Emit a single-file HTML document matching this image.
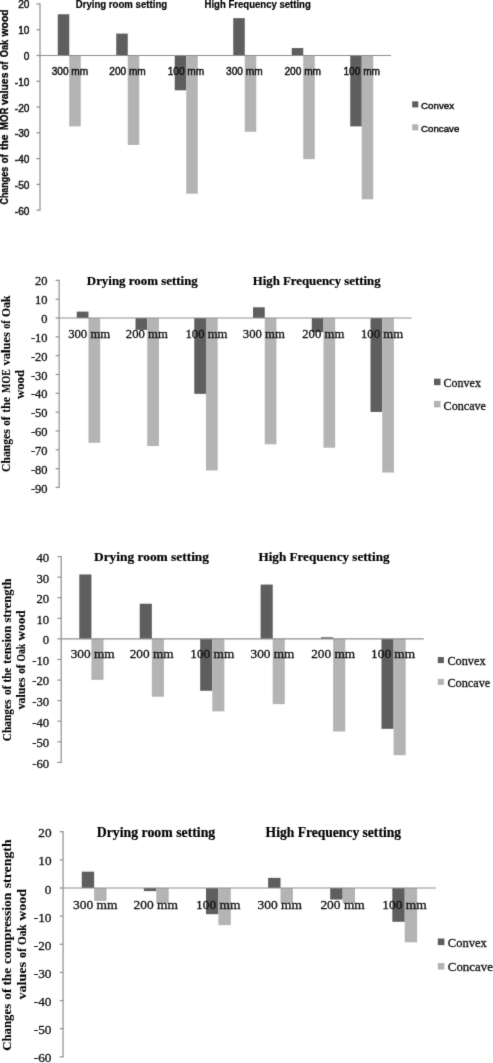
<!DOCTYPE html><html><head><meta charset="utf-8"><title>Oak wood charts</title><style>html,body{margin:0;padding:0;background:#fff;overflow:hidden;}svg{display:block;}</style></head><body>
<svg width="493" height="1063" viewBox="0 0 493 1063">
<defs><filter id="b" x="0" y="0" width="493" height="1063" filterUnits="userSpaceOnUse" color-interpolation-filters="sRGB"><feConvolveMatrix order="3" kernelMatrix="0.01134 0.08382 0.01134 0.08382 0.61935 0.08382 0.01134 0.08382 0.01134" edgeMode="duplicate"/></filter></defs>
<rect width="493" height="1063" fill="#fff"/>
<g filter="url(#b)">
<rect x="57.75" y="14.26" width="11.5" height="41.24" fill="#5e5e5e"/>
<rect x="69.25" y="55.5" width="11.5" height="70.88" fill="#b4b4b4"/>
<rect x="116.25" y="33.59" width="11.5" height="21.91" fill="#5e5e5e"/>
<rect x="127.75" y="55.5" width="11.5" height="89.44" fill="#b4b4b4"/>
<rect x="174.75" y="55.5" width="11.5" height="34.8" fill="#5e5e5e"/>
<rect x="186.25" y="55.5" width="11.5" height="138.15" fill="#b4b4b4"/>
<rect x="233.25" y="18.13" width="11.5" height="37.37" fill="#5e5e5e"/>
<rect x="244.75" y="55.5" width="11.5" height="76.29" fill="#b4b4b4"/>
<rect x="291.75" y="48.03" width="11.5" height="7.47" fill="#5e5e5e"/>
<rect x="303.25" y="55.5" width="11.5" height="103.62" fill="#b4b4b4"/>
<rect x="350.25" y="55.5" width="11.5" height="70.88" fill="#5e5e5e"/>
<rect x="361.75" y="55.5" width="11.5" height="143.82" fill="#b4b4b4"/>
<path d="M40 3.35V210.75" stroke="#8f8f8f" stroke-width="1.2" fill="none"/>
<path d="M40 55.5H391" stroke="#8f8f8f" stroke-width="1.2" fill="none"/>
<path d="M36.4 3.95H40" stroke="#8f8f8f" stroke-width="1.2" fill="none"/>
<text x="29.4" y="8.45" font-size="10.2" font-family="&quot;Liberation Sans&quot;, sans-serif" font-weight="normal" text-anchor="end" fill="#111" stroke="#111" stroke-width="0.45" textLength="11.23" lengthAdjust="spacingAndGlyphs">20</text>
<path d="M36.4 29.72H40" stroke="#8f8f8f" stroke-width="1.2" fill="none"/>
<text x="29.4" y="34.22" font-size="10.2" font-family="&quot;Liberation Sans&quot;, sans-serif" font-weight="normal" text-anchor="end" fill="#111" stroke="#111" stroke-width="0.45" textLength="11.23" lengthAdjust="spacingAndGlyphs">10</text>
<path d="M36.4 55.5H40" stroke="#8f8f8f" stroke-width="1.2" fill="none"/>
<text x="29.4" y="60" font-size="10.2" font-family="&quot;Liberation Sans&quot;, sans-serif" font-weight="normal" text-anchor="end" fill="#111" stroke="#111" stroke-width="0.45" textLength="5.62" lengthAdjust="spacingAndGlyphs">0</text>
<path d="M36.4 81.28H40" stroke="#8f8f8f" stroke-width="1.2" fill="none"/>
<text x="29.4" y="85.78" font-size="10.2" font-family="&quot;Liberation Sans&quot;, sans-serif" font-weight="normal" text-anchor="end" fill="#111" stroke="#111" stroke-width="0.45" textLength="14.59" lengthAdjust="spacingAndGlyphs">-10</text>
<path d="M36.4 107.05H40" stroke="#8f8f8f" stroke-width="1.2" fill="none"/>
<text x="29.4" y="111.55" font-size="10.2" font-family="&quot;Liberation Sans&quot;, sans-serif" font-weight="normal" text-anchor="end" fill="#111" stroke="#111" stroke-width="0.45" textLength="14.59" lengthAdjust="spacingAndGlyphs">-20</text>
<path d="M36.4 132.82H40" stroke="#8f8f8f" stroke-width="1.2" fill="none"/>
<text x="29.4" y="137.32" font-size="10.2" font-family="&quot;Liberation Sans&quot;, sans-serif" font-weight="normal" text-anchor="end" fill="#111" stroke="#111" stroke-width="0.45" textLength="14.59" lengthAdjust="spacingAndGlyphs">-30</text>
<path d="M36.4 158.6H40" stroke="#8f8f8f" stroke-width="1.2" fill="none"/>
<text x="29.4" y="163.1" font-size="10.2" font-family="&quot;Liberation Sans&quot;, sans-serif" font-weight="normal" text-anchor="end" fill="#111" stroke="#111" stroke-width="0.45" textLength="14.59" lengthAdjust="spacingAndGlyphs">-40</text>
<path d="M36.4 184.38H40" stroke="#8f8f8f" stroke-width="1.2" fill="none"/>
<text x="29.4" y="188.88" font-size="10.2" font-family="&quot;Liberation Sans&quot;, sans-serif" font-weight="normal" text-anchor="end" fill="#111" stroke="#111" stroke-width="0.45" textLength="14.59" lengthAdjust="spacingAndGlyphs">-50</text>
<path d="M36.4 210.15H40" stroke="#8f8f8f" stroke-width="1.2" fill="none"/>
<text x="29.4" y="214.65" font-size="10.2" font-family="&quot;Liberation Sans&quot;, sans-serif" font-weight="normal" text-anchor="end" fill="#111" stroke="#111" stroke-width="0.45" textLength="14.59" lengthAdjust="spacingAndGlyphs">-60</text>
<text x="69.95" y="74.9" font-size="10.3" font-family="&quot;Liberation Sans&quot;, sans-serif" font-weight="normal" text-anchor="middle" fill="#111" stroke="#111" stroke-width="0.45" textLength="36.5" lengthAdjust="spacingAndGlyphs">300 mm</text>
<text x="127.55" y="74.9" font-size="10.3" font-family="&quot;Liberation Sans&quot;, sans-serif" font-weight="normal" text-anchor="middle" fill="#111" stroke="#111" stroke-width="0.45" textLength="36.5" lengthAdjust="spacingAndGlyphs">200 mm</text>
<text x="185.95" y="74.9" font-size="10.3" font-family="&quot;Liberation Sans&quot;, sans-serif" font-weight="normal" text-anchor="middle" fill="#111" stroke="#111" stroke-width="0.45" textLength="36.5" lengthAdjust="spacingAndGlyphs">100 mm</text>
<text x="244.35" y="74.9" font-size="10.3" font-family="&quot;Liberation Sans&quot;, sans-serif" font-weight="normal" text-anchor="middle" fill="#111" stroke="#111" stroke-width="0.45" textLength="36.5" lengthAdjust="spacingAndGlyphs">300 mm</text>
<text x="302.75" y="74.9" font-size="10.3" font-family="&quot;Liberation Sans&quot;, sans-serif" font-weight="normal" text-anchor="middle" fill="#111" stroke="#111" stroke-width="0.45" textLength="36.5" lengthAdjust="spacingAndGlyphs">200 mm</text>
<text x="361.75" y="74.9" font-size="10.3" font-family="&quot;Liberation Sans&quot;, sans-serif" font-weight="normal" text-anchor="middle" fill="#111" stroke="#111" stroke-width="0.45" textLength="36.5" lengthAdjust="spacingAndGlyphs">100 mm</text>
<text x="75.7" y="8.3" font-size="10.5" font-family="&quot;Liberation Sans&quot;, sans-serif" font-weight="bold" text-anchor="start" fill="#000" stroke="#000" stroke-width="0.2" textLength="91.5" lengthAdjust="spacingAndGlyphs">Drying room setting</text>
<text x="204.5" y="8.3" font-size="10.5" font-family="&quot;Liberation Sans&quot;, sans-serif" font-weight="bold" text-anchor="start" fill="#000" stroke="#000" stroke-width="0.2" textLength="106.3" lengthAdjust="spacingAndGlyphs">High Frequency setting</text>
<rect x="412.2" y="101.3" width="6.1" height="6.1" fill="#5e5e5e"/>
<text x="421" y="108.8" font-size="9.8" font-family="&quot;Liberation Sans&quot;, sans-serif" font-weight="normal" text-anchor="start" fill="#111" stroke="#111" stroke-width="0.45" textLength="33.2" lengthAdjust="spacingAndGlyphs">Convex</text>
<rect x="412.2" y="124.3" width="6.1" height="6.1" fill="#b4b4b4"/>
<text x="421" y="131.6" font-size="9.8" font-family="&quot;Liberation Sans&quot;, sans-serif" font-weight="normal" text-anchor="start" fill="#111" stroke="#111" stroke-width="0.45" textLength="38.3" lengthAdjust="spacingAndGlyphs">Concave</text>
<text transform="translate(8.2 204.5) rotate(-90)" x="0" y="0" font-size="10.2" font-family="&quot;Liberation Sans&quot;, sans-serif" font-weight="bold" fill="#000" stroke="#000" stroke-width="0.3" textLength="37.6" lengthAdjust="spacingAndGlyphs">Changes</text>
<text transform="translate(8.2 163.2) rotate(-90)" x="0" y="0" font-size="10.2" font-family="&quot;Liberation Sans&quot;, sans-serif" font-weight="bold" fill="#000" stroke="#000" stroke-width="0.3" textLength="8.98" lengthAdjust="spacingAndGlyphs">of</text>
<text transform="translate(8.2 150) rotate(-90)" x="0" y="0" font-size="10.2" font-family="&quot;Liberation Sans&quot;, sans-serif" font-weight="bold" fill="#000" stroke="#000" stroke-width="0.3" textLength="15.5" lengthAdjust="spacingAndGlyphs">the</text>
<text transform="translate(8.2 130) rotate(-90)" x="0" y="0" font-size="10.2" font-family="&quot;Liberation Sans&quot;, sans-serif" font-weight="bold" fill="#000" stroke="#000" stroke-width="0.3" textLength="22.3" lengthAdjust="spacingAndGlyphs">MOR</text>
<text transform="translate(8.2 104.9) rotate(-90)" x="0" y="0" font-size="10.2" font-family="&quot;Liberation Sans&quot;, sans-serif" font-weight="bold" fill="#000" stroke="#000" stroke-width="0.3" textLength="32.3" lengthAdjust="spacingAndGlyphs">values</text>
<text transform="translate(8.2 70) rotate(-90)" x="0" y="0" font-size="10.2" font-family="&quot;Liberation Sans&quot;, sans-serif" font-weight="bold" fill="#000" stroke="#000" stroke-width="0.3" textLength="8.38" lengthAdjust="spacingAndGlyphs">of</text>
<text transform="translate(8.2 57.3) rotate(-90)" x="0" y="0" font-size="10.2" font-family="&quot;Liberation Sans&quot;, sans-serif" font-weight="bold" fill="#000" stroke="#000" stroke-width="0.3" textLength="17.48" lengthAdjust="spacingAndGlyphs">Oak</text>
<text transform="translate(8.2 36.47) rotate(-90)" x="0" y="0" font-size="10.2" font-family="&quot;Liberation Sans&quot;, sans-serif" font-weight="bold" fill="#000" stroke="#000" stroke-width="0.3" textLength="26.97" lengthAdjust="spacingAndGlyphs">wood</text>
<rect x="76.77" y="311.6" width="11.7" height="6.4" fill="#5e5e5e"/>
<rect x="88.47" y="318" width="11.7" height="124.82" fill="#b4b4b4"/>
<rect x="135.53" y="318" width="11.7" height="11.86" fill="#5e5e5e"/>
<rect x="147.22" y="318" width="11.7" height="128.02" fill="#b4b4b4"/>
<rect x="194.28" y="318" width="11.7" height="75.87" fill="#5e5e5e"/>
<rect x="205.97" y="318" width="11.7" height="152.5" fill="#b4b4b4"/>
<rect x="253.03" y="307.27" width="11.7" height="10.73" fill="#5e5e5e"/>
<rect x="264.73" y="318" width="11.7" height="126.33" fill="#b4b4b4"/>
<rect x="311.78" y="318" width="11.7" height="14.12" fill="#5e5e5e"/>
<rect x="323.48" y="318" width="11.7" height="129.72" fill="#b4b4b4"/>
<rect x="370.53" y="318" width="11.7" height="93.95" fill="#5e5e5e"/>
<rect x="382.23" y="318" width="11.7" height="154.57" fill="#b4b4b4"/>
<path d="M59.1 279.75V488.04" stroke="#8f8f8f" stroke-width="1.2" fill="none"/>
<path d="M59.1 318H411.6" stroke="#8f8f8f" stroke-width="1.2" fill="none"/>
<path d="M55.6 280.35H59.1" stroke="#8f8f8f" stroke-width="1.2" fill="none"/>
<text x="47.6" y="285.45" font-size="12" font-family="&quot;Liberation Serif&quot;, serif" font-weight="normal" text-anchor="end" fill="#111" stroke="#111" stroke-width="0.3" textLength="12.48" lengthAdjust="spacingAndGlyphs">20</text>
<path d="M55.6 299.17H59.1" stroke="#8f8f8f" stroke-width="1.2" fill="none"/>
<text x="47.6" y="304.27" font-size="12" font-family="&quot;Liberation Serif&quot;, serif" font-weight="normal" text-anchor="end" fill="#111" stroke="#111" stroke-width="0.3" textLength="12.48" lengthAdjust="spacingAndGlyphs">10</text>
<path d="M55.6 318H59.1" stroke="#8f8f8f" stroke-width="1.2" fill="none"/>
<text x="47.6" y="323.1" font-size="12" font-family="&quot;Liberation Serif&quot;, serif" font-weight="normal" text-anchor="end" fill="#111" stroke="#111" stroke-width="0.3" textLength="6.24" lengthAdjust="spacingAndGlyphs">0</text>
<path d="M55.6 336.83H59.1" stroke="#8f8f8f" stroke-width="1.2" fill="none"/>
<text x="47.6" y="341.93" font-size="12" font-family="&quot;Liberation Serif&quot;, serif" font-weight="normal" text-anchor="end" fill="#111" stroke="#111" stroke-width="0.3" textLength="16.64" lengthAdjust="spacingAndGlyphs">-10</text>
<path d="M55.6 355.65H59.1" stroke="#8f8f8f" stroke-width="1.2" fill="none"/>
<text x="47.6" y="360.75" font-size="12" font-family="&quot;Liberation Serif&quot;, serif" font-weight="normal" text-anchor="end" fill="#111" stroke="#111" stroke-width="0.3" textLength="16.64" lengthAdjust="spacingAndGlyphs">-20</text>
<path d="M55.6 374.48H59.1" stroke="#8f8f8f" stroke-width="1.2" fill="none"/>
<text x="47.6" y="379.58" font-size="12" font-family="&quot;Liberation Serif&quot;, serif" font-weight="normal" text-anchor="end" fill="#111" stroke="#111" stroke-width="0.3" textLength="16.64" lengthAdjust="spacingAndGlyphs">-30</text>
<path d="M55.6 393.31H59.1" stroke="#8f8f8f" stroke-width="1.2" fill="none"/>
<text x="47.6" y="398.41" font-size="12" font-family="&quot;Liberation Serif&quot;, serif" font-weight="normal" text-anchor="end" fill="#111" stroke="#111" stroke-width="0.3" textLength="16.64" lengthAdjust="spacingAndGlyphs">-40</text>
<path d="M55.6 412.13H59.1" stroke="#8f8f8f" stroke-width="1.2" fill="none"/>
<text x="47.6" y="417.24" font-size="12" font-family="&quot;Liberation Serif&quot;, serif" font-weight="normal" text-anchor="end" fill="#111" stroke="#111" stroke-width="0.3" textLength="16.64" lengthAdjust="spacingAndGlyphs">-50</text>
<path d="M55.6 430.96H59.1" stroke="#8f8f8f" stroke-width="1.2" fill="none"/>
<text x="47.6" y="436.06" font-size="12" font-family="&quot;Liberation Serif&quot;, serif" font-weight="normal" text-anchor="end" fill="#111" stroke="#111" stroke-width="0.3" textLength="16.64" lengthAdjust="spacingAndGlyphs">-60</text>
<path d="M55.6 449.79H59.1" stroke="#8f8f8f" stroke-width="1.2" fill="none"/>
<text x="47.6" y="454.89" font-size="12" font-family="&quot;Liberation Serif&quot;, serif" font-weight="normal" text-anchor="end" fill="#111" stroke="#111" stroke-width="0.3" textLength="16.64" lengthAdjust="spacingAndGlyphs">-70</text>
<path d="M55.6 468.62H59.1" stroke="#8f8f8f" stroke-width="1.2" fill="none"/>
<text x="47.6" y="473.72" font-size="12" font-family="&quot;Liberation Serif&quot;, serif" font-weight="normal" text-anchor="end" fill="#111" stroke="#111" stroke-width="0.3" textLength="16.64" lengthAdjust="spacingAndGlyphs">-80</text>
<path d="M55.6 487.44H59.1" stroke="#8f8f8f" stroke-width="1.2" fill="none"/>
<text x="47.6" y="492.54" font-size="12" font-family="&quot;Liberation Serif&quot;, serif" font-weight="normal" text-anchor="end" fill="#111" stroke="#111" stroke-width="0.3" textLength="16.64" lengthAdjust="spacingAndGlyphs">-90</text>
<text x="89.17" y="337.7" font-size="12" font-family="&quot;Liberation Serif&quot;, serif" font-weight="normal" text-anchor="middle" fill="#111" stroke="#111" stroke-width="0.3" textLength="42" lengthAdjust="spacingAndGlyphs">300 mm</text>
<text x="146.88" y="337.7" font-size="12" font-family="&quot;Liberation Serif&quot;, serif" font-weight="normal" text-anchor="middle" fill="#111" stroke="#111" stroke-width="0.3" textLength="42" lengthAdjust="spacingAndGlyphs">200 mm</text>
<text x="206.47" y="337.7" font-size="12" font-family="&quot;Liberation Serif&quot;, serif" font-weight="normal" text-anchor="middle" fill="#111" stroke="#111" stroke-width="0.3" textLength="42" lengthAdjust="spacingAndGlyphs">100 mm</text>
<text x="263.83" y="337.7" font-size="12" font-family="&quot;Liberation Serif&quot;, serif" font-weight="normal" text-anchor="middle" fill="#111" stroke="#111" stroke-width="0.3" textLength="42" lengthAdjust="spacingAndGlyphs">300 mm</text>
<text x="323.28" y="337.7" font-size="12" font-family="&quot;Liberation Serif&quot;, serif" font-weight="normal" text-anchor="middle" fill="#111" stroke="#111" stroke-width="0.3" textLength="42" lengthAdjust="spacingAndGlyphs">200 mm</text>
<text x="382.03" y="337.7" font-size="12" font-family="&quot;Liberation Serif&quot;, serif" font-weight="normal" text-anchor="middle" fill="#111" stroke="#111" stroke-width="0.3" textLength="42" lengthAdjust="spacingAndGlyphs">100 mm</text>
<text x="86.8" y="284.8" font-size="12.6" font-family="&quot;Liberation Serif&quot;, serif" font-weight="bold" text-anchor="start" fill="#000" stroke="#000" stroke-width="0.2" textLength="111" lengthAdjust="spacingAndGlyphs">Drying room setting</text>
<text x="252.8" y="284.8" font-size="12.6" font-family="&quot;Liberation Serif&quot;, serif" font-weight="bold" text-anchor="start" fill="#000" stroke="#000" stroke-width="0.2" textLength="127.8" lengthAdjust="spacingAndGlyphs">High Frequency setting</text>
<rect x="434" y="378.7" width="6.5" height="6.5" fill="#5e5e5e"/>
<text x="443.6" y="386.7" font-size="11.8" font-family="&quot;Liberation Serif&quot;, serif" font-weight="normal" text-anchor="start" fill="#111" stroke="#111" stroke-width="0.3" textLength="37.3" lengthAdjust="spacingAndGlyphs">Convex</text>
<rect x="434" y="400.9" width="6.5" height="6.5" fill="#b4b4b4"/>
<text x="443.6" y="409.6" font-size="11.8" font-family="&quot;Liberation Serif&quot;, serif" font-weight="normal" text-anchor="start" fill="#111" stroke="#111" stroke-width="0.3" textLength="42.4" lengthAdjust="spacingAndGlyphs">Concave</text>
<text transform="translate(9.9 471.9) rotate(-90)" x="0" y="0" font-size="11.6" font-family="&quot;Liberation Serif&quot;, serif" font-weight="bold" fill="#000" stroke="#000" stroke-width="0.1" textLength="42.61" lengthAdjust="spacingAndGlyphs">Changes</text>
<text transform="translate(9.9 425.8) rotate(-90)" x="0" y="0" font-size="11.6" font-family="&quot;Liberation Serif&quot;, serif" font-weight="bold" fill="#000" stroke="#000" stroke-width="0.1" textLength="9.09" lengthAdjust="spacingAndGlyphs">of</text>
<text transform="translate(9.9 412.7) rotate(-90)" x="0" y="0" font-size="11.6" font-family="&quot;Liberation Serif&quot;, serif" font-weight="bold" fill="#000" stroke="#000" stroke-width="0.1" textLength="15.8" lengthAdjust="spacingAndGlyphs">the</text>
<text transform="translate(9.9 392.9) rotate(-90)" x="0" y="0" font-size="11.6" font-family="&quot;Liberation Serif&quot;, serif" font-weight="bold" fill="#000" stroke="#000" stroke-width="0.1" textLength="23.7" lengthAdjust="spacingAndGlyphs">MOE</text>
<text transform="translate(9.9 365.4) rotate(-90)" x="0" y="0" font-size="11.6" font-family="&quot;Liberation Serif&quot;, serif" font-weight="bold" fill="#000" stroke="#000" stroke-width="0.1" textLength="33.3" lengthAdjust="spacingAndGlyphs">values</text>
<text transform="translate(9.9 328.8) rotate(-90)" x="0" y="0" font-size="11.6" font-family="&quot;Liberation Serif&quot;, serif" font-weight="bold" fill="#000" stroke="#000" stroke-width="0.1" textLength="8.6" lengthAdjust="spacingAndGlyphs">of</text>
<text transform="translate(9.9 317.1) rotate(-90)" x="0" y="0" font-size="11.6" font-family="&quot;Liberation Serif&quot;, serif" font-weight="bold" fill="#000" stroke="#000" stroke-width="0.1" textLength="21.5" lengthAdjust="spacingAndGlyphs">Oak</text>
<text transform="translate(23.9 399) rotate(-90)" x="0" y="0" font-size="11.6" font-family="&quot;Liberation Serif&quot;, serif" font-weight="bold" fill="#000" stroke="#000" stroke-width="0.1" textLength="29.1" lengthAdjust="spacingAndGlyphs">wood</text>
<rect x="79.32" y="574.48" width="12.1" height="64.42" fill="#5e5e5e"/>
<rect x="91.42" y="638.9" width="12.1" height="40.95" fill="#b4b4b4"/>
<rect x="139.75" y="603.71" width="12.1" height="35.19" fill="#5e5e5e"/>
<rect x="151.85" y="638.9" width="12.1" height="57.83" fill="#b4b4b4"/>
<rect x="200.18" y="638.9" width="12.1" height="51.86" fill="#5e5e5e"/>
<rect x="212.28" y="638.9" width="12.1" height="72.44" fill="#b4b4b4"/>
<rect x="260.62" y="584.57" width="12.1" height="54.33" fill="#5e5e5e"/>
<rect x="272.72" y="638.9" width="12.1" height="65.24" fill="#b4b4b4"/>
<rect x="321.05" y="637.25" width="12.1" height="1.65" fill="#5e5e5e"/>
<rect x="333.15" y="638.9" width="12.1" height="92.61" fill="#b4b4b4"/>
<rect x="381.48" y="638.9" width="12.1" height="89.93" fill="#5e5e5e"/>
<rect x="393.58" y="638.9" width="12.1" height="116.28" fill="#b4b4b4"/>
<path d="M61.2 555.98V762.98" stroke="#8f8f8f" stroke-width="1.2" fill="none"/>
<path d="M61.2 638.9H423.8" stroke="#8f8f8f" stroke-width="1.2" fill="none"/>
<path d="M57.4 556.58H61.2" stroke="#8f8f8f" stroke-width="1.2" fill="none"/>
<text x="49.2" y="561.98" font-size="12" font-family="&quot;Liberation Serif&quot;, serif" font-weight="normal" text-anchor="end" fill="#111" stroke="#111" stroke-width="0.3" textLength="12.72" lengthAdjust="spacingAndGlyphs">40</text>
<path d="M57.4 577.16H61.2" stroke="#8f8f8f" stroke-width="1.2" fill="none"/>
<text x="49.2" y="582.56" font-size="12" font-family="&quot;Liberation Serif&quot;, serif" font-weight="normal" text-anchor="end" fill="#111" stroke="#111" stroke-width="0.3" textLength="12.72" lengthAdjust="spacingAndGlyphs">30</text>
<path d="M57.4 597.74H61.2" stroke="#8f8f8f" stroke-width="1.2" fill="none"/>
<text x="49.2" y="603.14" font-size="12" font-family="&quot;Liberation Serif&quot;, serif" font-weight="normal" text-anchor="end" fill="#111" stroke="#111" stroke-width="0.3" textLength="12.72" lengthAdjust="spacingAndGlyphs">20</text>
<path d="M57.4 618.32H61.2" stroke="#8f8f8f" stroke-width="1.2" fill="none"/>
<text x="49.2" y="623.72" font-size="12" font-family="&quot;Liberation Serif&quot;, serif" font-weight="normal" text-anchor="end" fill="#111" stroke="#111" stroke-width="0.3" textLength="12.72" lengthAdjust="spacingAndGlyphs">10</text>
<path d="M57.4 638.9H61.2" stroke="#8f8f8f" stroke-width="1.2" fill="none"/>
<text x="49.2" y="644.3" font-size="12" font-family="&quot;Liberation Serif&quot;, serif" font-weight="normal" text-anchor="end" fill="#111" stroke="#111" stroke-width="0.3" textLength="6.36" lengthAdjust="spacingAndGlyphs">0</text>
<path d="M57.4 659.48H61.2" stroke="#8f8f8f" stroke-width="1.2" fill="none"/>
<text x="49.2" y="664.88" font-size="12" font-family="&quot;Liberation Serif&quot;, serif" font-weight="normal" text-anchor="end" fill="#111" stroke="#111" stroke-width="0.3" textLength="16.96" lengthAdjust="spacingAndGlyphs">-10</text>
<path d="M57.4 680.06H61.2" stroke="#8f8f8f" stroke-width="1.2" fill="none"/>
<text x="49.2" y="685.46" font-size="12" font-family="&quot;Liberation Serif&quot;, serif" font-weight="normal" text-anchor="end" fill="#111" stroke="#111" stroke-width="0.3" textLength="16.96" lengthAdjust="spacingAndGlyphs">-20</text>
<path d="M57.4 700.64H61.2" stroke="#8f8f8f" stroke-width="1.2" fill="none"/>
<text x="49.2" y="706.04" font-size="12" font-family="&quot;Liberation Serif&quot;, serif" font-weight="normal" text-anchor="end" fill="#111" stroke="#111" stroke-width="0.3" textLength="16.96" lengthAdjust="spacingAndGlyphs">-30</text>
<path d="M57.4 721.22H61.2" stroke="#8f8f8f" stroke-width="1.2" fill="none"/>
<text x="49.2" y="726.62" font-size="12" font-family="&quot;Liberation Serif&quot;, serif" font-weight="normal" text-anchor="end" fill="#111" stroke="#111" stroke-width="0.3" textLength="16.96" lengthAdjust="spacingAndGlyphs">-40</text>
<path d="M57.4 741.8H61.2" stroke="#8f8f8f" stroke-width="1.2" fill="none"/>
<text x="49.2" y="747.2" font-size="12" font-family="&quot;Liberation Serif&quot;, serif" font-weight="normal" text-anchor="end" fill="#111" stroke="#111" stroke-width="0.3" textLength="16.96" lengthAdjust="spacingAndGlyphs">-50</text>
<path d="M57.4 762.38H61.2" stroke="#8f8f8f" stroke-width="1.2" fill="none"/>
<text x="49.2" y="767.78" font-size="12" font-family="&quot;Liberation Serif&quot;, serif" font-weight="normal" text-anchor="end" fill="#111" stroke="#111" stroke-width="0.3" textLength="16.96" lengthAdjust="spacingAndGlyphs">-60</text>
<text x="92.67" y="658.3" font-size="12.2" font-family="&quot;Liberation Serif&quot;, serif" font-weight="normal" text-anchor="middle" fill="#111" stroke="#111" stroke-width="0.3" textLength="43.9" lengthAdjust="spacingAndGlyphs">300 mm</text>
<text x="151.65" y="658.3" font-size="12.2" font-family="&quot;Liberation Serif&quot;, serif" font-weight="normal" text-anchor="middle" fill="#111" stroke="#111" stroke-width="0.3" textLength="43.9" lengthAdjust="spacingAndGlyphs">200 mm</text>
<text x="212.28" y="658.3" font-size="12.2" font-family="&quot;Liberation Serif&quot;, serif" font-weight="normal" text-anchor="middle" fill="#111" stroke="#111" stroke-width="0.3" textLength="43.9" lengthAdjust="spacingAndGlyphs">100 mm</text>
<text x="272.52" y="658.3" font-size="12.2" font-family="&quot;Liberation Serif&quot;, serif" font-weight="normal" text-anchor="middle" fill="#111" stroke="#111" stroke-width="0.3" textLength="43.9" lengthAdjust="spacingAndGlyphs">300 mm</text>
<text x="333.15" y="658.3" font-size="12.2" font-family="&quot;Liberation Serif&quot;, serif" font-weight="normal" text-anchor="middle" fill="#111" stroke="#111" stroke-width="0.3" textLength="43.9" lengthAdjust="spacingAndGlyphs">200 mm</text>
<text x="393.08" y="658.3" font-size="12.2" font-family="&quot;Liberation Serif&quot;, serif" font-weight="normal" text-anchor="middle" fill="#111" stroke="#111" stroke-width="0.3" textLength="43.9" lengthAdjust="spacingAndGlyphs">100 mm</text>
<text x="94" y="560.8" font-size="13.1" font-family="&quot;Liberation Serif&quot;, serif" font-weight="bold" text-anchor="start" fill="#000" stroke="#000" stroke-width="0.2" textLength="115" lengthAdjust="spacingAndGlyphs">Drying room setting</text>
<text x="258.5" y="560.8" font-size="13.1" font-family="&quot;Liberation Serif&quot;, serif" font-weight="bold" text-anchor="start" fill="#000" stroke="#000" stroke-width="0.2" textLength="131" lengthAdjust="spacingAndGlyphs">High Frequency setting</text>
<rect x="437.8" y="657" width="6.1" height="6.1" fill="#5e5e5e"/>
<text x="447.4" y="665" font-size="11.9" font-family="&quot;Liberation Serif&quot;, serif" font-weight="normal" text-anchor="start" fill="#111" stroke="#111" stroke-width="0.3" textLength="38.2" lengthAdjust="spacingAndGlyphs">Convex</text>
<rect x="437.8" y="678.8" width="6.1" height="6.1" fill="#b4b4b4"/>
<text x="447.4" y="687.2" font-size="11.9" font-family="&quot;Liberation Serif&quot;, serif" font-weight="normal" text-anchor="start" fill="#111" stroke="#111" stroke-width="0.3" textLength="42.9" lengthAdjust="spacingAndGlyphs">Concave</text>
<text transform="translate(10.6 741.2) rotate(-90)" x="0" y="0" font-size="12" font-family="&quot;Liberation Serif&quot;, serif" font-weight="bold" fill="#000" stroke="#000" stroke-width="0.1" textLength="41.61" lengthAdjust="spacingAndGlyphs">Changes</text>
<text transform="translate(10.6 695) rotate(-90)" x="0" y="0" font-size="12" font-family="&quot;Liberation Serif&quot;, serif" font-weight="bold" fill="#000" stroke="#000" stroke-width="0.1" textLength="9.39" lengthAdjust="spacingAndGlyphs">of</text>
<text transform="translate(10.6 682.5) rotate(-90)" x="0" y="0" font-size="12" font-family="&quot;Liberation Serif&quot;, serif" font-weight="bold" fill="#000" stroke="#000" stroke-width="0.1" textLength="14.8" lengthAdjust="spacingAndGlyphs">the</text>
<text transform="translate(10.6 664) rotate(-90)" x="0" y="0" font-size="12" font-family="&quot;Liberation Serif&quot;, serif" font-weight="bold" fill="#000" stroke="#000" stroke-width="0.1" textLength="38.1" lengthAdjust="spacingAndGlyphs">tension</text>
<text transform="translate(10.6 622.5) rotate(-90)" x="0" y="0" font-size="12" font-family="&quot;Liberation Serif&quot;, serif" font-weight="bold" fill="#000" stroke="#000" stroke-width="0.1" textLength="44" lengthAdjust="spacingAndGlyphs">strength</text>
<text transform="translate(25.2 709.6) rotate(-90)" x="0" y="0" font-size="12" font-family="&quot;Liberation Serif&quot;, serif" font-weight="bold" fill="#000" stroke="#000" stroke-width="0.1" textLength="32.1" lengthAdjust="spacingAndGlyphs">values</text>
<text transform="translate(25.2 673.8) rotate(-90)" x="0" y="0" font-size="12" font-family="&quot;Liberation Serif&quot;, serif" font-weight="bold" fill="#000" stroke="#000" stroke-width="0.1" textLength="9.19" lengthAdjust="spacingAndGlyphs">of</text>
<text transform="translate(25.2 661.4) rotate(-90)" x="0" y="0" font-size="12" font-family="&quot;Liberation Serif&quot;, serif" font-weight="bold" fill="#000" stroke="#000" stroke-width="0.1" textLength="17.6" lengthAdjust="spacingAndGlyphs">Oak</text>
<text transform="translate(25.2 640.7) rotate(-90)" x="0" y="0" font-size="12" font-family="&quot;Liberation Serif&quot;, serif" font-weight="bold" fill="#000" stroke="#000" stroke-width="0.1" textLength="30.5" lengthAdjust="spacingAndGlyphs">wood</text>
<rect x="81.76" y="871.68" width="12.4" height="16.32" fill="#5e5e5e"/>
<rect x="94.16" y="888" width="12.4" height="12.94" fill="#b4b4b4"/>
<rect x="143.88" y="888" width="12.4" height="3.1" fill="#5e5e5e"/>
<rect x="156.28" y="888" width="12.4" height="15.2" fill="#b4b4b4"/>
<rect x="205.99" y="888" width="12.4" height="26.17" fill="#5e5e5e"/>
<rect x="218.39" y="888" width="12.4" height="37.14" fill="#b4b4b4"/>
<rect x="268.11" y="877.87" width="12.4" height="10.13" fill="#5e5e5e"/>
<rect x="280.51" y="888" width="12.4" height="15.2" fill="#b4b4b4"/>
<rect x="330.23" y="888" width="12.4" height="11.54" fill="#5e5e5e"/>
<rect x="342.62" y="888" width="12.4" height="15.2" fill="#b4b4b4"/>
<rect x="392.34" y="888" width="12.4" height="33.77" fill="#5e5e5e"/>
<rect x="404.74" y="888" width="12.4" height="54.31" fill="#b4b4b4"/>
<path d="M63.1 831.12V1057.44" stroke="#8f8f8f" stroke-width="1.2" fill="none"/>
<path d="M63.1 888H435.8" stroke="#8f8f8f" stroke-width="1.2" fill="none"/>
<path d="M59.7 831.72H63.1" stroke="#8f8f8f" stroke-width="1.2" fill="none"/>
<text x="51.5" y="837.32" font-size="12.5" font-family="&quot;Liberation Serif&quot;, serif" font-weight="normal" text-anchor="end" fill="#111" stroke="#111" stroke-width="0.3" textLength="13.25" lengthAdjust="spacingAndGlyphs">20</text>
<path d="M59.7 859.86H63.1" stroke="#8f8f8f" stroke-width="1.2" fill="none"/>
<text x="51.5" y="865.46" font-size="12.5" font-family="&quot;Liberation Serif&quot;, serif" font-weight="normal" text-anchor="end" fill="#111" stroke="#111" stroke-width="0.3" textLength="13.25" lengthAdjust="spacingAndGlyphs">10</text>
<path d="M59.7 888H63.1" stroke="#8f8f8f" stroke-width="1.2" fill="none"/>
<text x="51.5" y="893.6" font-size="12.5" font-family="&quot;Liberation Serif&quot;, serif" font-weight="normal" text-anchor="end" fill="#111" stroke="#111" stroke-width="0.3" textLength="6.62" lengthAdjust="spacingAndGlyphs">0</text>
<path d="M59.7 916.14H63.1" stroke="#8f8f8f" stroke-width="1.2" fill="none"/>
<text x="51.5" y="921.74" font-size="12.5" font-family="&quot;Liberation Serif&quot;, serif" font-weight="normal" text-anchor="end" fill="#111" stroke="#111" stroke-width="0.3" textLength="17.66" lengthAdjust="spacingAndGlyphs">-10</text>
<path d="M59.7 944.28H63.1" stroke="#8f8f8f" stroke-width="1.2" fill="none"/>
<text x="51.5" y="949.88" font-size="12.5" font-family="&quot;Liberation Serif&quot;, serif" font-weight="normal" text-anchor="end" fill="#111" stroke="#111" stroke-width="0.3" textLength="17.66" lengthAdjust="spacingAndGlyphs">-20</text>
<path d="M59.7 972.42H63.1" stroke="#8f8f8f" stroke-width="1.2" fill="none"/>
<text x="51.5" y="978.02" font-size="12.5" font-family="&quot;Liberation Serif&quot;, serif" font-weight="normal" text-anchor="end" fill="#111" stroke="#111" stroke-width="0.3" textLength="17.66" lengthAdjust="spacingAndGlyphs">-30</text>
<path d="M59.7 1000.56H63.1" stroke="#8f8f8f" stroke-width="1.2" fill="none"/>
<text x="51.5" y="1006.16" font-size="12.5" font-family="&quot;Liberation Serif&quot;, serif" font-weight="normal" text-anchor="end" fill="#111" stroke="#111" stroke-width="0.3" textLength="17.66" lengthAdjust="spacingAndGlyphs">-40</text>
<path d="M59.7 1028.7H63.1" stroke="#8f8f8f" stroke-width="1.2" fill="none"/>
<text x="51.5" y="1034.3" font-size="12.5" font-family="&quot;Liberation Serif&quot;, serif" font-weight="normal" text-anchor="end" fill="#111" stroke="#111" stroke-width="0.3" textLength="17.66" lengthAdjust="spacingAndGlyphs">-50</text>
<path d="M59.7 1056.84H63.1" stroke="#8f8f8f" stroke-width="1.2" fill="none"/>
<text x="51.5" y="1062.44" font-size="12.5" font-family="&quot;Liberation Serif&quot;, serif" font-weight="normal" text-anchor="end" fill="#111" stroke="#111" stroke-width="0.3" textLength="17.66" lengthAdjust="spacingAndGlyphs">-60</text>
<text x="95.16" y="909.3" font-size="12.8" font-family="&quot;Liberation Serif&quot;, serif" font-weight="normal" text-anchor="middle" fill="#111" stroke="#111" stroke-width="0.3" textLength="44.4" lengthAdjust="spacingAndGlyphs">300 mm</text>
<text x="155.68" y="909.3" font-size="12.8" font-family="&quot;Liberation Serif&quot;, serif" font-weight="normal" text-anchor="middle" fill="#111" stroke="#111" stroke-width="0.3" textLength="44.4" lengthAdjust="spacingAndGlyphs">200 mm</text>
<text x="218.29" y="909.3" font-size="12.8" font-family="&quot;Liberation Serif&quot;, serif" font-weight="normal" text-anchor="middle" fill="#111" stroke="#111" stroke-width="0.3" textLength="44.4" lengthAdjust="spacingAndGlyphs">100 mm</text>
<text x="279.71" y="909.3" font-size="12.8" font-family="&quot;Liberation Serif&quot;, serif" font-weight="normal" text-anchor="middle" fill="#111" stroke="#111" stroke-width="0.3" textLength="44.4" lengthAdjust="spacingAndGlyphs">300 mm</text>
<text x="342.62" y="909.3" font-size="12.8" font-family="&quot;Liberation Serif&quot;, serif" font-weight="normal" text-anchor="middle" fill="#111" stroke="#111" stroke-width="0.3" textLength="44.4" lengthAdjust="spacingAndGlyphs">200 mm</text>
<text x="404.54" y="909.3" font-size="12.8" font-family="&quot;Liberation Serif&quot;, serif" font-weight="normal" text-anchor="middle" fill="#111" stroke="#111" stroke-width="0.3" textLength="44.4" lengthAdjust="spacingAndGlyphs">100 mm</text>
<text x="96.8" y="836.7" font-size="13.6" font-family="&quot;Liberation Serif&quot;, serif" font-weight="bold" text-anchor="start" fill="#000" stroke="#000" stroke-width="0.2" textLength="118.4" lengthAdjust="spacingAndGlyphs">Drying room setting</text>
<text x="265.6" y="836.7" font-size="13.6" font-family="&quot;Liberation Serif&quot;, serif" font-weight="bold" text-anchor="start" fill="#000" stroke="#000" stroke-width="0.2" textLength="135.4" lengthAdjust="spacingAndGlyphs">High Frequency setting</text>
<rect x="437.8" y="938.5" width="6.6" height="6.6" fill="#5e5e5e"/>
<text x="447.8" y="946.7" font-size="12.6" font-family="&quot;Liberation Serif&quot;, serif" font-weight="normal" text-anchor="start" fill="#111" stroke="#111" stroke-width="0.3" textLength="39.1" lengthAdjust="spacingAndGlyphs">Convex</text>
<rect x="437.8" y="963" width="6.6" height="6.6" fill="#b4b4b4"/>
<text x="447.8" y="971.4" font-size="12.6" font-family="&quot;Liberation Serif&quot;, serif" font-weight="normal" text-anchor="start" fill="#111" stroke="#111" stroke-width="0.3" textLength="45.2" lengthAdjust="spacingAndGlyphs">Concave</text>
<text transform="translate(10.7 1050.8) rotate(-90)" x="0" y="0" font-size="13.2" font-family="&quot;Liberation Serif&quot;, serif" font-weight="bold" fill="#000" stroke="#000" stroke-width="0.1" textLength="47.01" lengthAdjust="spacingAndGlyphs">Changes</text>
<text transform="translate(10.7 999.8) rotate(-90)" x="0" y="0" font-size="13.2" font-family="&quot;Liberation Serif&quot;, serif" font-weight="bold" fill="#000" stroke="#000" stroke-width="0.1" textLength="11.17" lengthAdjust="spacingAndGlyphs">of</text>
<text transform="translate(10.7 985.6) rotate(-90)" x="0" y="0" font-size="13.2" font-family="&quot;Liberation Serif&quot;, serif" font-weight="bold" fill="#000" stroke="#000" stroke-width="0.1" textLength="17.8" lengthAdjust="spacingAndGlyphs">the</text>
<text transform="translate(10.7 964.1) rotate(-90)" x="0" y="0" font-size="13.2" font-family="&quot;Liberation Serif&quot;, serif" font-weight="bold" fill="#000" stroke="#000" stroke-width="0.1" textLength="71.3" lengthAdjust="spacingAndGlyphs">compression</text>
<text transform="translate(10.7 888.3) rotate(-90)" x="0" y="0" font-size="13.2" font-family="&quot;Liberation Serif&quot;, serif" font-weight="bold" fill="#000" stroke="#000" stroke-width="0.1" textLength="48.9" lengthAdjust="spacingAndGlyphs">strength</text>
<text transform="translate(26.2 999.5) rotate(-90)" x="0" y="0" font-size="13.2" font-family="&quot;Liberation Serif&quot;, serif" font-weight="bold" fill="#000" stroke="#000" stroke-width="0.1" textLength="37.6" lengthAdjust="spacingAndGlyphs">values</text>
<text transform="translate(26.2 957.9) rotate(-90)" x="0" y="0" font-size="13.2" font-family="&quot;Liberation Serif&quot;, serif" font-weight="bold" fill="#000" stroke="#000" stroke-width="0.1" textLength="9.98" lengthAdjust="spacingAndGlyphs">of</text>
<text transform="translate(26.2 945) rotate(-90)" x="0" y="0" font-size="13.2" font-family="&quot;Liberation Serif&quot;, serif" font-weight="bold" fill="#000" stroke="#000" stroke-width="0.1" textLength="20.4" lengthAdjust="spacingAndGlyphs">Oak</text>
<text transform="translate(26.2 920.7) rotate(-90)" x="0" y="0" font-size="13.2" font-family="&quot;Liberation Serif&quot;, serif" font-weight="bold" fill="#000" stroke="#000" stroke-width="0.1" textLength="31.6" lengthAdjust="spacingAndGlyphs">wood</text>
</g>
</svg></body></html>
